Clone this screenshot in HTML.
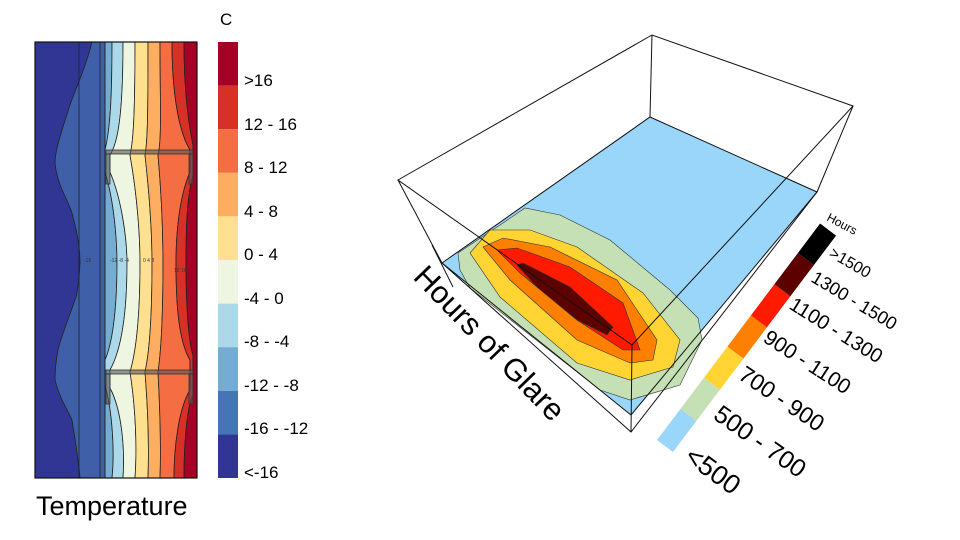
<!DOCTYPE html>
<html><head><meta charset="utf-8"><style>body{margin:0;background:#fff}svg{display:block}text{font-family:"Liberation Sans",sans-serif}</style></head>
<body>
<svg width="960" height="540" viewBox="0 0 960 540" xmlns="http://www.w3.org/2000/svg">
<g stroke="#222" stroke-width="0.8">
<rect x="35" y="42" width="162" height="436" fill="#3f5fa8"/>
<path d="M35,42 L92,42 C85,70 75,90 70,105 C62,130 55,150 55,163 C57,185 68,200 72,213 C78,235 80,250 80,263 C79,285 76,300 75,300 C68,320 60,340 58,350 C55,365 55,375 55,380 C60,400 68,410 72,420 C76,445 79,465 80,478 L35,478 Z" fill="#313695"/>
<path d="M105,42 L112,42 C112,100 110,130 105,150 L105,172 C114,200 117,240 117,263 C117,300 114,340 105,360 L105,385 C112,410 115,450 112,478 L105,478 Z" fill="#74add1"/>
<path d="M112,42 L123,42 C123,100 120,140 110,155 L110,172 C122,200 127,240 127,263 C127,300 124,345 110,370 L110,388 C122,410 125,450 123,478 L112,478 C115,450 112,410 105,385 L105,360 C114,340 117,300 117,263 C117,240 114,200 105,172 L105,150 C110,130 112,100 112,42 Z" fill="#abd9e9"/>
<path d="M123,42 L135,42 C135,100 134,140 130,155 C138,200 140,240 140,263 C140,300 138,345 130,372 C136,410 137,450 135,478 L123,478 C125,450 122,410 110,388 L110,370 C124,345 127,300 127,263 C127,240 122,200 110,172 L110,155 C120,140 123,100 123,42 Z" fill="#eef5e0"/>
<path d="M135,42 L148,42 C148,100 148,140 145,155 C150,200 152,240 152,263 C152,300 151,345 145,372 C148,410 149,450 148,478 L135,478 C137,450 136,410 130,372 C138,345 140,300 140,263 C140,240 138,200 130,155 C134,140 135,100 135,42 Z" fill="#fee090"/>
<path d="M148,42 L160,42 C160,100 162,140 158,155 C162,200 163,240 163,263 C163,300 162,345 158,372 C160,410 161,450 160,478 L148,478 C149,450 148,410 145,372 C151,345 152,300 152,263 C152,240 150,200 145,155 C148,140 148,100 148,42 Z" fill="#fdae61"/>
<path d="M160,42 L172,42 C172,90 178,130 190,150 L190,172 C178,200 176,240 176,263 C176,300 178,340 190,360 L190,390 C178,410 174,450 174,478 L160,478 C161,450 160,410 158,372 C162,345 163,300 163,263 C163,240 162,200 158,155 C162,140 160,100 160,42 Z" fill="#f46d43"/>
<path d="M172,42 L184,42 C184,90 188,120 193,145 L193,175 C186,200 186,240 186,263 C186,300 188,340 193,355 L193,395 C186,410 184,450 184,478 L174,478 C174,450 178,410 190,390 L190,360 C178,340 176,300 176,263 C176,240 178,200 190,172 L190,150 C178,130 172,90 172,42 Z" fill="#d73027"/>
<path d="M184,42 L197,42 L197,478 L184,478 C184,450 186,410 193,395 L193,355 C188,340 186,300 186,263 C186,240 186,200 193,175 L193,145 C188,120 184,90 184,42 Z" fill="#a50026"/>
<line x1="79" y1="42" x2="79" y2="478"/><line x1="100" y1="42" x2="100" y2="478"/><line x1="105" y1="42" x2="105" y2="478"/>
<rect x="35" y="42" width="162" height="436" fill="none" stroke="#111" stroke-width="1.2"/>
</g>
<g fill="#555" fill-opacity="0.6" stroke="#333" stroke-width="0.8">
<rect x="106" y="150" width="87" height="4"/><rect x="106" y="370" width="87" height="4"/>
<rect x="106" y="154" width="4" height="30"/><rect x="189" y="154" width="4" height="30"/>
<rect x="106" y="374" width="4" height="30"/><rect x="189" y="374" width="4" height="30"/>
</g>
<g font-size="5" fill="#333"><text x="84" y="262">-16</text><text x="110" y="262">-12 -8 -4</text><text x="143" y="262">0 4 8</text><text x="174" y="272">12 16</text></g>
<rect x="218" y="42" width="20" height="43.6" fill="#a50026"/>
<rect x="218" y="85.6" width="20" height="43.6" fill="#d73027"/>
<rect x="218" y="129.2" width="20" height="43.6" fill="#f46d43"/>
<rect x="218" y="172.8" width="20" height="43.6" fill="#fdae61"/>
<rect x="218" y="216.4" width="20" height="43.6" fill="#fee090"/>
<rect x="218" y="260" width="20" height="43.6" fill="#eef5e0"/>
<rect x="218" y="303.6" width="20" height="43.6" fill="#abd9e9"/>
<rect x="218" y="347.2" width="20" height="43.6" fill="#74add1"/>
<rect x="218" y="390.8" width="20" height="43.6" fill="#4575b4"/>
<rect x="218" y="434.4" width="20" height="43.6" fill="#313695"/>
<g font-size="17" fill="#000">
<text x="220" y="25">C</text>
<text x="244" y="86">&gt;16</text><text x="244" y="130">12 - 16</text><text x="244" y="173">8 - 12</text><text x="244" y="217">4 - 8</text><text x="244" y="260">0 - 4</text><text x="244" y="304">-4 - 0</text><text x="244" y="347">-8 - -4</text><text x="244" y="391">-12 - -8</text><text x="244" y="434">-16 - -12</text><text x="244" y="478">&lt;-16</text>
</g>
<text x="36" y="515" font-size="27">Temperature</text>

<polygon points="442,263 650,117 817,192 631,415" fill="#99d6fa"/>
<polygon points="458,253 500,225 525,208 560,215 610,240 670,290 698,318 702,340 680,385 630,400 600,390 470,288 460,270" fill="#c5e0b4" stroke="#333" stroke-width="0.6"/>
<polygon points="470,253 490,230 530,230 577,247 643,293 680,340 673,367 630,380 577,363 500,297" fill="#ffd433" stroke="#333" stroke-width="0.6"/>
<polygon points="483,247 503,238 550,247 617,280 657,340 653,360 630,363 577,340 510,280" fill="#ff7f00" stroke="#333" stroke-width="0.6"/>
<polygon points="497,250 517,248 570,267 623,303 640,350 623,350 577,320 520,273" fill="#ff1a00" stroke="#333" stroke-width="0.6"/>
<polygon points="517,265 523,263 570,287 613,327 607,335 577,320 537,287" fill="#5c0000" stroke="#333" stroke-width="0.6"/>
<g stroke="#111" stroke-width="1" fill="none">
<polygon points="398,180 652,35 853,106 632,345"/>
<polygon points="442,263 650,117 817,192 631,432"/>
<line x1="652" y1="35" x2="650" y2="117"/><line x1="398" y1="180" x2="442" y2="263"/>
<line x1="853" y1="106" x2="817" y2="192"/><line x1="632" y1="345" x2="631" y2="432"/>
<line x1="442" y1="263" x2="631" y2="415"/><line x1="631" y1="415" x2="817" y2="192"/>
<line x1="432" y1="245" x2="453" y2="287"/>
</g>
<text transform="translate(412,278) rotate(46)" font-size="31" fill="#000">Hours of Glare</text>
<g transform="translate(665,446) rotate(-53)">
<rect x="0" y="-10" width="39" height="20" fill="#99d6fa"/>
<rect x="39" y="-10" width="39" height="20" fill="#c5e0b4"/>
<rect x="78" y="-10" width="39" height="20" fill="#ffd433"/>
<rect x="117" y="-10" width="39" height="20" fill="#ff7f00"/>
<rect x="156" y="-10" width="39" height="20" fill="#ff1a00"/>
<rect x="195" y="-10" width="39" height="20" fill="#5c0000"/>
<rect x="234" y="-10" width="37" height="20" fill="#000"/>
</g>
<g fill="#000">
<text transform="translate(683,460) rotate(36)" font-size="27">&lt;500</text>
<text transform="translate(712,418) rotate(35)" font-size="25">500 - 700</text>
<text transform="translate(737,378) rotate(34)" font-size="23">700 - 900</text>
<text transform="translate(762,341) rotate(33)" font-size="21">900 - 1100</text>
<text transform="translate(788,308) rotate(32)" font-size="20">1100 - 1300</text>
<text transform="translate(810,281) rotate(31)" font-size="18">1300 - 1500</text>
<text transform="translate(828,256) rotate(30)" font-size="16">&gt;1500</text>
<text transform="translate(826,220) rotate(28)" font-size="12">Hours</text>
</g>
</svg>
</body></html>
